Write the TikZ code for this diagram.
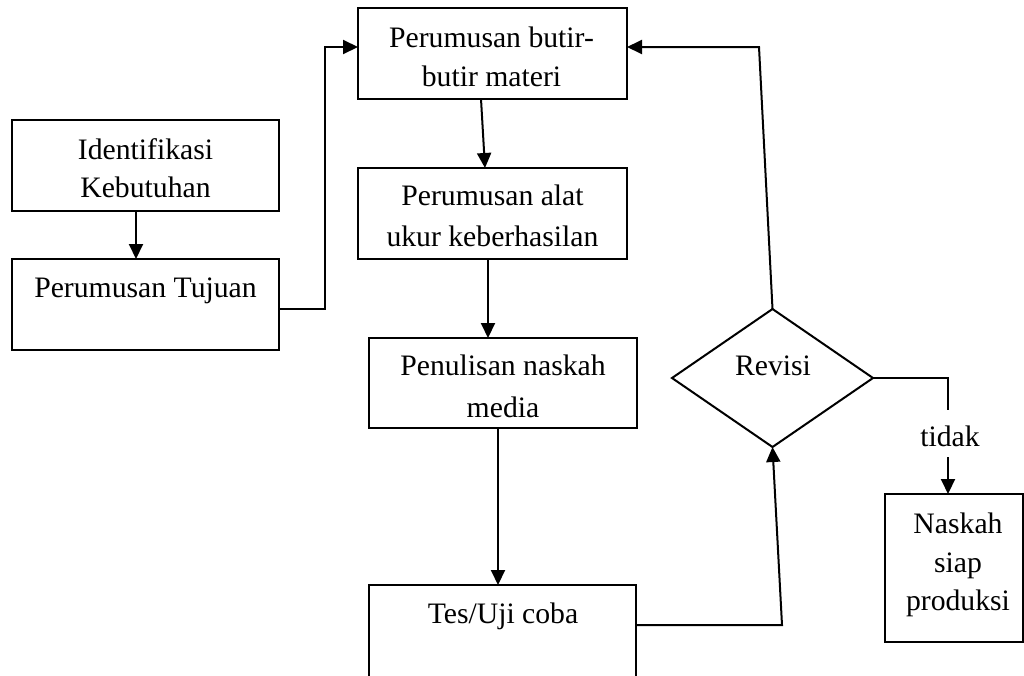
\documentclass[tikz,border=0pt]{standalone}
\usepackage{fontspec}
\setmainfont{Liberation Serif}
\usetikzlibrary{arrows.meta,shapes.geometric}
\begin{document}
\begin{tikzpicture}[x=1pt,y=-1pt,
  line width=2pt,
  box/.style={draw,line width=2pt,inner sep=0pt,outer sep=0pt},
  txt/.style={anchor=base,inner sep=0pt,font=\fontsize{29.7pt}{38.5pt}\selectfont},
  arr/.style={-{Triangle[length=15pt,width=14pt]}}]
\clip (0,0) rectangle (1024,675);
% boxes
\node[box,minimum width=267pt,minimum height=91pt] (iden) at (145.5,165.5) {};
\node[box,minimum width=267pt,minimum height=91pt] (tuj) at (145.5,304.5) {};
\node[box,minimum width=269pt,minimum height=91pt] (butir) at (492.5,53.5) {};
\node[box,minimum width=269pt,minimum height=91pt] (alat) at (492.5,213.5) {};
\node[box,minimum width=268pt,minimum height=90pt] (tulis) at (503,383) {};
\node[box,minimum width=267pt,minimum height=115pt] (tes) at (502.5,642.5) {};
\node[box,minimum width=138pt,minimum height=148pt] (naskah) at (954,568) {};
\node[box,diamond,minimum width=201pt,minimum height=138pt] (rev) at (772.5,378) {};
% texts
\node[txt] (l1) at (145.5,159) {Identifikasi};
\node[txt] (l2) at (145.5,197) {Kebutuhan};
\node[txt] (l3) at (145.5,297) {Perumusan Tujuan};
\node[txt] (l4) at (491.5,47) {Perumusan butir-};
\node[txt] (l5) at (491.5,86) {butir materi};
\node[txt] (l6) at (492.5,205) {Perumusan alat};
\node[txt] (l7) at (492.5,246) {ukur keberhasilan};
\node[txt] (l8) at (503,375) {Penulisan naskah};
\node[txt] (l9) at (503,417) {media};
\node[txt] (l10) at (503,623) {Tes/Uji coba};
\node[txt] (l11) at (773,375) {Revisi};
\node[txt] (tidak) at (950,446) {tidak};
\node[txt] (l12) at (958,533) {Naskah};
\node[txt] (l13) at (958,572) {siap};
\node[txt] (l14) at (958,610) {produksi};
% coordinates
\coordinate (k1) at (325,309);
\coordinate (k2) at (325,47);
\coordinate (k3) at (782,625);
\coordinate (k4) at (759,47);
\coordinate (t1) at (948,410);
\coordinate (t2) at (948,457);
% connectors
\draw[arr] ([xshift=-9.5pt]iden.south) -- ([xshift=-9.5pt]tuj.north);
\draw[arr] (tuj.east |- k1) -- (k1) -- (k2) -- (butir.west |- k2);
\draw[arr] ([xshift=-11.5pt]butir.south) -- ([xshift=-7.5pt]alat.north);
\draw[arr] ([xshift=-4.5pt]alat.south) -- ([xshift=-15pt]tulis.north);
\draw[arr] ([xshift=-5pt]tulis.south) -- ([xshift=-4.5pt]tes.north);
\draw[arr] (tes.east |- k3) -- (k3) -- (rev.south);
\draw[arr] (rev.north) -- (k4) -- (butir.east |- k4);
\draw (rev.east) -| (t1);
\draw[arr] (t2) -- (t2 |- naskah.north);
\end{tikzpicture}
\end{document}
